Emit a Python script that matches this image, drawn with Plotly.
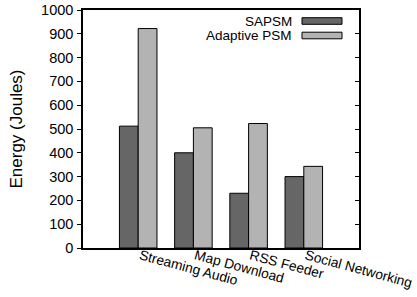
import plotly.graph_objects as go

categories = ["Streaming Audio", "Map Download", "RSS Feeder", "Social Networking"]
sapsm = [512, 400, 230, 300]
adaptive_psm = [922, 505, 523, 343]
y_ticks = [0, 100, 200, 300, 400, 500, 600, 700, 800, 900, 1000]

FONT = "Liberation Sans, Arial, Helvetica, sans-serif"
x = list(range(len(categories)))

fig = go.Figure()
fig.add_trace(go.Bar(x=x, y=sapsm, name="SAPSM", marker=dict(color="#666666", line=dict(color="black", width=1)), showlegend=False))
fig.add_trace(go.Bar(x=x, y=adaptive_psm, name="Adaptive PSM", marker=dict(color="#b3b3b3", line=dict(color="black", width=1)), showlegend=False))
# invisible trace for mirrored inner ticks on right
fig.add_trace(go.Scatter(x=[x[0]], y=[0], yaxis="y2", mode="markers", marker=dict(opacity=0), showlegend=False, hoverinfo="skip"))

fig.update_layout(
    width=417, height=297,
    margin=dict(l=83, r=58, t=10, b=49),
    paper_bgcolor="white", plot_bgcolor="white",
    barmode="group", bargap=0.32, bargroupgap=0,
    font=dict(family=FONT, size=14, color="black"),
    xaxis=dict(range=[-1, 4], tickmode="array", tickvals=x, ticktext=categories,
               tickangle=15, ticks="", showline=True, linecolor="black", linewidth=1.5,
               mirror=True, showgrid=False, zeroline=False, automargin=False,
               ticklabelshift=2, ticklabelstandoff=-7,
               tickfont=dict(size=13.8)),
    yaxis=dict(range=[0, 1000], tickvals=y_ticks, ticks="outside", ticklen=4, tickcolor="black",
               showline=True, linecolor="black", linewidth=1.5, mirror=True, showgrid=False,
               zeroline=False, automargin=False, ticklabelstandoff=1,
               title=dict(text="Energy (Joules)", font=dict(size=17), standoff=14),
               tickfont=dict(size=14.5)),
    yaxis2=dict(range=[0, 1000], tickvals=y_ticks, overlaying="y", side="right", ticks="inside",
                ticklen=4, tickcolor="black", showticklabels=False, showgrid=False, zeroline=False,
                showline=False, automargin=False),
)

# legend drawn manually (text right-aligned, key box on right)
legend_items = [("SAPSM", "#666666"), ("Adaptive PSM", "#b3b3b3")]
for i, (name, col) in enumerate(legend_items):
    yc = 21 + i * 14.5
    fig.add_annotation(xref="paper", yref="paper", x=(293 - 83) / 276, y=1 - (yc - 10) / 238,
                       text=name, showarrow=False, xanchor="right", yanchor="middle",
                       font=dict(size=13.5, family=FONT), borderpad=0)
    fig.add_shape(type="rect", xref="paper", yref="paper",
                  x0=(302 - 83) / 276, x1=(342 - 83) / 276,
                  y0=1 - (yc + 3.3 - 10) / 238, y1=1 - (yc - 3.3 - 10) / 238,
                  fillcolor=col, line=dict(color="black", width=1))

fig.write_html("out.html", config={"displayModeBar": False},
               post_script="document.body.style.margin='0';")
